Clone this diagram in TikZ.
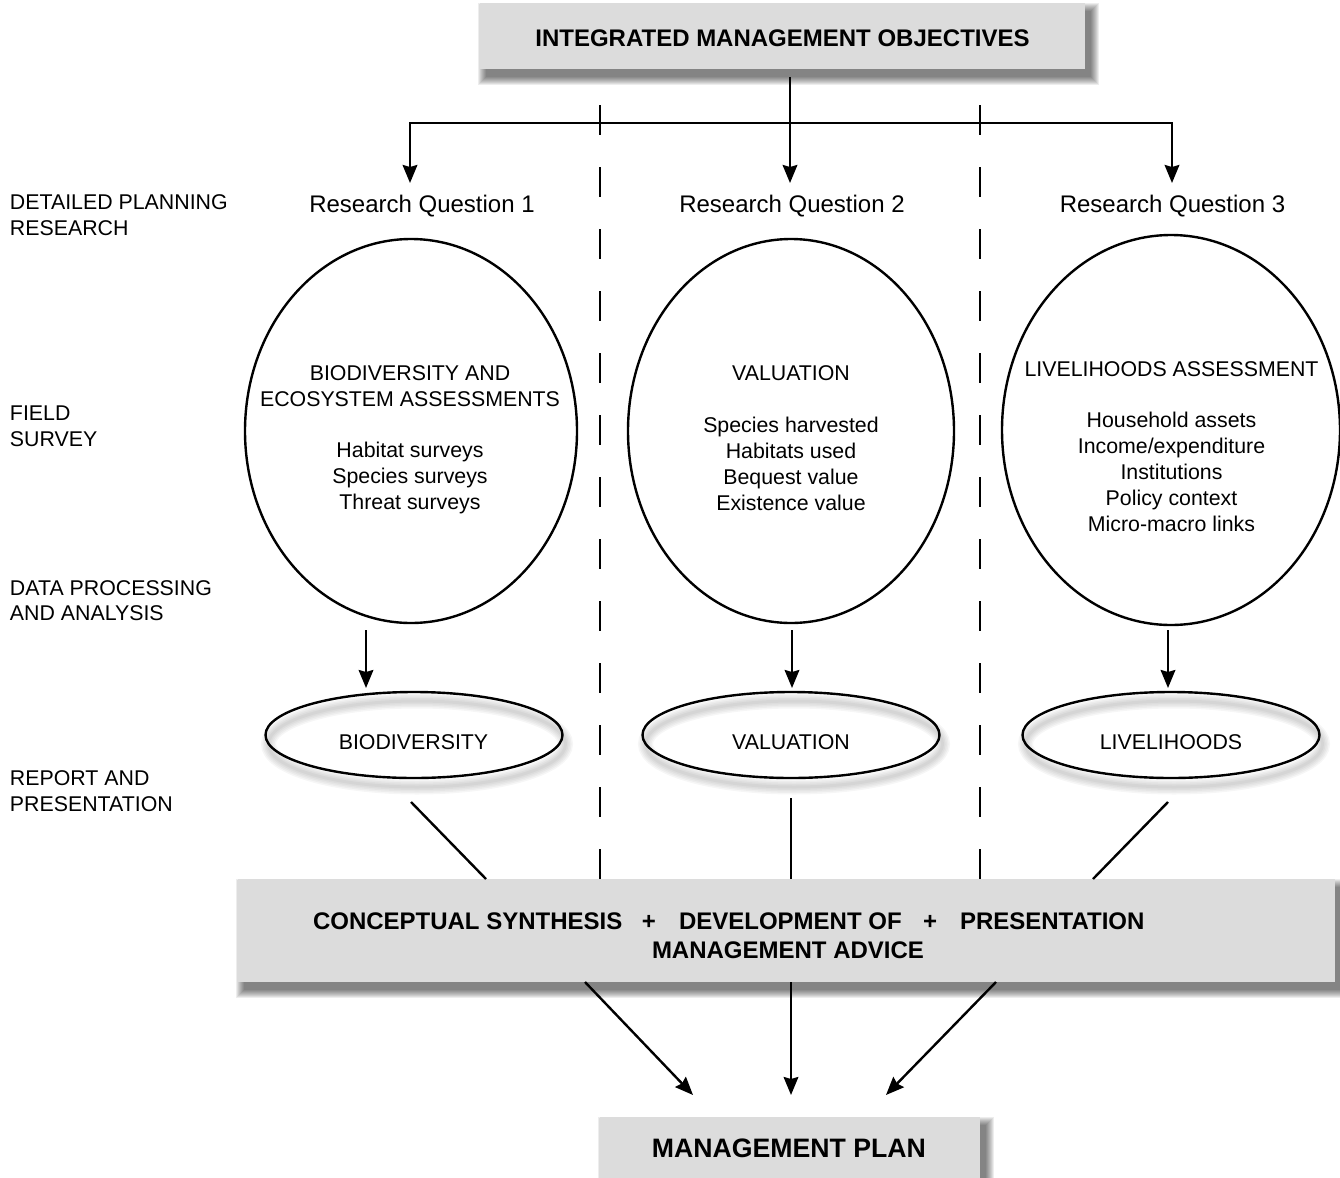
\documentclass[tikz,border=0pt]{standalone}
\usepackage{fontspec}
\setmainfont{Liberation Sans}
\usetikzlibrary{shapes.geometric,arrows.meta}

\definecolor{panelgray}{RGB}{220,220,220}

% soft drop shadow under a rectangle given by its corners
\newcommand\dropshade[4]{%
  \foreach \s in {0,...,8}{%
    \fill[black,opacity=0.07] (#1+6-\s,#2+8-\s) rectangle (#3+6+\s,#4+8+\s);}}
% soft shadow of an oval outline
\newcommand\ovalglow[3]{%
  \foreach \w in {3,6,9,12,15}{%
    \draw[black,opacity=0.035,line width=\w*0.75pt] (#1+3,#2+9) ellipse [x radius=#3, y radius=32.25pt];}}

\begin{document}
\begin{tikzpicture}[x=0.75pt,y=-0.75pt,
  every node/.style={inner sep=0pt,outer sep=0pt},
  body/.style={font=\fontsize{16}{19.5}\selectfont,anchor=base},
  side/.style={font=\fontsize{16}{19.5}\selectfont,anchor=base west},
  rq/.style={font=\fontsize{18}{22}\selectfont,anchor=base},
  head/.style={font=\bfseries\fontsize{18}{22}\selectfont,anchor=base},
  headw/.style={font=\bfseries\fontsize{18}{22}\selectfont,anchor=base west},
  link/.style={line width=1.8pt},
  arr/.style={line width=1.8pt,-{Stealth[length=13.5pt,width=11pt,inset=1.5pt]}},
  divider/.style={line width=1.8pt,dash pattern=on 22.5pt off 24pt},
  bigoval/.style={ellipse,draw,line width=1.8pt},
  smalloval/.style={ellipse,draw,line width=1.8pt,minimum width=222.75pt,minimum height=64.5pt},
  panel/.style={rectangle,fill=panelgray},
]
\useasboundingbox (0,0) rectangle (1340,1178);

% grey panels with their shadows
\dropshade{480}{3}{1085}{69}
\node[panel,minimum width=453.75pt,minimum height=49.5pt] (imobox) at (782.5,36) {};
\dropshade{238}{879}{1335}{982}
\node[panel,minimum width=822.75pt,minimum height=77.25pt] (synbox) at (786.5,930.5) {};
\dropshade{600}{1117}{980}{1190}
\node[panel,minimum width=285pt,minimum height=54.75pt] (planbox) at (790,1153.5) {};

% column dividers
\coordinate (v1t) at (600,105); \coordinate (v1b) at (600,879);
\coordinate (v2t) at (980,105); \coordinate (v2b) at (980,879);
\draw[divider] (v1t) -- (v1b);
\draw[divider] (v2t) -- (v2b);

% objectives branch out to the three questions
\coordinate (imoout) at (790,77);
\coordinate (fork) at (790,123);
\coordinate (in1) at (410,183);
\coordinate (in2) at (790,183);
\coordinate (in3) at (1172,183);
\draw[arr] (imoout) -- (in2);
\draw[arr] (fork) -| (in1);
\draw[arr] (fork) -| (in3);

% side labels
\node[side] (lab1a) at (10,209) {DETAILED PLANNING};
\node[side] (lab1b) at (10,235) {RESEARCH};
\node[side] (lab2a) at (10,420.5) {FIELD};
\node[side] (lab2b) at (10,446.5) {SURVEY};
\node[side] (lab3a) at (10,595.5) {DATA PROCESSING};
\node[side] (lab3b) at (10,620.5) {AND ANALYSIS};
\node[side] (lab4a) at (10,785) {REPORT AND};
\node[side] (lab4b) at (10,811) {PRESENTATION};

% research questions
\node[rq] (rq1) at (422,212.5) {Research Question 1};
\node[rq] (rq2) at (792,212.5) {Research Question 2};
\node[rq] (rq3) at (1172.5,212.5) {Research Question 3};

% field survey ovals
\node[bigoval,minimum width=249pt,minimum height=288pt] (e1) at (411,431) {};
\node[bigoval,minimum width=244.5pt,minimum height=288pt] (e2) at (791,431) {};
\node[bigoval,minimum width=253.5pt,minimum height=292.5pt] (e3) at (1171,430) {};

\node[body] (e1h1) at (410,380) {BIODIVERSITY AND};
\node[body] (e1h2) at (410,406) {ECOSYSTEM ASSESSMENTS};
\foreach [count=\i] \t in {Habitat surveys,Species surveys,Threat surveys}
  \node[body] (e1l\i) at (410,457+26*\i-26) {\t};

\node[body] (e2h) at (791,380) {VALUATION};
\foreach [count=\i] \t in {Species harvested,Habitats used,Bequest value,Existence value}
  \node[body] (e2l\i) at (791,432+26*\i-26) {\t};

\node[body] (e3h) at (1171.5,376.5) {LIVELIHOODS ASSESSMENT};
\foreach [count=\i] \t in {Household assets,Income/expenditure,Institutions,Policy context,Micro-macro links}
  \node[body] (e3l\i) at (1171.5,427.5+26*\i-26) {\t};

% analysis arrows
\coordinate (d1a) at (366,630); \coordinate (d1b) at (366,688);
\coordinate (d2a) at (792,630); \coordinate (d2b) at (792,688);
\coordinate (d3a) at (1168,630); \coordinate (d3b) at (1168,688);
\draw[arr] (d1a) -- (d1b);
\draw[arr] (d2a) -- (d2b);
\draw[arr] (d3a) -- (d3b);

% report ovals
\ovalglow{414}{735}{111.4pt}
\ovalglow{791}{735}{111.4pt}
\ovalglow{1171}{735}{111.4pt}
\node[smalloval] (s1) at (414,735) {};
\node[smalloval] (s2) at (791,735) {};
\node[smalloval] (s3) at (1171,735) {};
\node[body] (s1t) at (413.5,749) {BIODIVERSITY};
\node[body] (s2t) at (791,749) {VALUATION};
\node[body] (s3t) at (1171,749) {LIVELIHOODS};

% reports feed the synthesis
\coordinate (u1a) at (411,802); \coordinate (u1b) at (486,879);
\coordinate (u2a) at (791,798); \coordinate (u2b) at (791,879);
\coordinate (u3a) at (1168,802); \coordinate (u3b) at (1093,879);
\draw[link] (u1a) -- (u1b);
\draw[link] (u2a) -- (u2b);
\draw[link] (u3a) -- (u3b);

% synthesis feeds the plan
\coordinate (p1a) at (585,982); \coordinate (p1b) at (693,1095);
\coordinate (p2a) at (791,982); \coordinate (p2b) at (791,1095);
\coordinate (p3a) at (996,982); \coordinate (p3b) at (886,1095);
\draw[arr] (p1a) -- (p1b);
\draw[arr] (p2a) -- (p2b);
\draw[arr] (p3a) -- (p3b);

% panel texts
\node[head] (imo) at (782.5,46.5) {INTEGRATED MANAGEMENT OBJECTIVES};
\node[headw] (syn1) at (313,929) {CONCEPTUAL SYNTHESIS};
\node[head] (plus1) at (649,929) {+};
\node[headw] (syn2) at (679,929) {DEVELOPMENT OF};
\node[head] (plus2) at (930,929) {+};
\node[headw] (syn3) at (960,929) {PRESENTATION};
\node[head] (syn4) at (788,958) {MANAGEMENT ADVICE};
\node[font=\bfseries\fontsize{20}{24}\selectfont,anchor=base] (plan) at (789,1157) {MANAGEMENT PLAN};
\end{tikzpicture}
\end{document}
